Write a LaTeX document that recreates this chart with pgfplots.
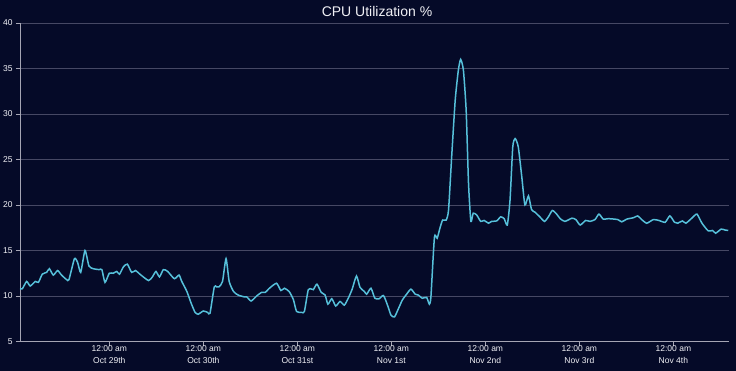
\documentclass[border=0pt]{standalone}
\usepackage{fontspec}
\setmainfont{Liberation Sans}
\usepackage{pgfplots}
\pgfplotsset{compat=1.18}
\definecolor{bgc}{RGB}{5,10,40}
\definecolor{linec}{RGB}{86,192,218}
\definecolor{gridc}{RGB}{70,72,100}
\definecolor{axc}{RGB}{165,165,180}
\definecolor{txtc}{RGB}{240,240,245}
\begin{document}
\begin{tikzpicture}
\useasboundingbox (0,0) rectangle (736bp,371bp);
\fill[bgc] (0,0) rectangle (736bp,371bp);
\begin{axis}[
  at={(20bp,29.5bp)}, anchor=south west,
  scale only axis, width=709bp, height=318.5bp,
  xmin=-22.8, xmax=158.2, ymin=5, ymax=40,
  xtick={0,24,48,72,96,120,144},
  xticklabels={{12:00 am\\Oct 29th},{12:00 am\\Oct 30th},{12:00 am\\Oct 31st},{12:00 am\\Nov 1st},{12:00 am\\Nov 2nd},{12:00 am\\Nov 3rd},{12:00 am\\Nov 4th}},
  xticklabel style={align=center, font=\fontsize{8.5bp}{12bp}\selectfont, text=txtc, yshift=3bp},
  ytick={5,10,...,40},
  yticklabel style={font=\fontsize{8.5bp}{10bp}\selectfont, text=txtc, xshift=0bp},
  /pgf/number format/assume math mode=true,
  axis x line*=bottom, axis y line*=left,
  ymajorgrids, grid style={gridc, line width=0.8bp},
  axis line style={axc, -, line width=0.9bp},
  x axis line style={line width=1.4bp},
  tick style={axc, line width=0.7bp},
  major tick length=4bp,
  tick align=outside,
  title={CPU Utilization \%},
  title style={font=\fontsize{14bp}{16bp}\selectfont, text=txtc, at={(0.5,1)}, anchor=center, yshift=5.5bp, xshift=2.5bp},
]
\addplot[linec, line width=1.5bp, smooth, tension=0.35, no marks] coordinates {
(-22.8,10.8) (-22.2,10.8) (-21.1,11.6) (-20.2,11.1) (-18.9,11.6) (-18.1,11.5) (-17.1,12.4) (-16.0,12.6) (-15.3,13.0) (-14.3,12.3)
(-13.2,12.8) (-12.2,12.3) (-10.9,11.8) (-10.3,11.8) (-8.9,14.1) (-8.1,13.7) (-7.3,12.6) (-6.2,15.0) (-5.2,13.3) (-4.1,13.0)
(-2.6,12.9) (-1.9,12.9) (-1.1,11.5) (0,12.5) (1.0,12.5) (1.9,12.7) (2.6,12.4) (3.6,13.2) (4.6,13.5) (5.7,12.6)
(6.7,12.8) (7.8,12.4) (10.0,11.7) (11.0,12.1) (11.9,12.7) (12.8,12.1) (13.8,12.9) (14.9,12.7) (16.6,11.9) (17.8,12.3)
(18.5,11.6) (19.8,10.5) (20.9,9.2) (21.9,8.2) (22.7,8.0) (24.0,8.35) (25.1,8.2) (25.7,8.1) (26.8,11.0) (27.4,11.0)
(28.0,11.0) (28.9,11.6) (29.8,14.1) (30.6,11.6) (31.7,10.5) (32.9,10.1) (34.5,9.9) (35.1,9.9) (36.2,9.45) (37.6,10.0)
(38.9,10.4) (39.8,10.4) (41.0,10.9) (42.7,11.4) (43.8,10.6) (44.7,10.85) (45.9,10.5) (47.0,9.6) (47.8,8.3) (49.1,8.2)
(49.8,8.3) (50.8,10.7) (51.7,10.75) (52.1,10.7) (53.0,11.3) (54.1,10.4) (55.1,10.1) (55.8,9.1) (56.8,9.7) (57.8,8.9)
(58.9,9.4) (60.0,9.0) (61.0,9.75) (62.0,10.75) (63.1,12.2) (64.0,10.95) (65.1,10.5) (65.7,10.2) (66.8,10.85) (67.8,9.75)
(68.9,9.7) (70.0,10.05) (71.1,8.9) (71.9,7.9) (72.8,7.7) (73.8,8.6) (74.8,9.55) (75.9,10.2) (77.0,10.75) (78.1,10.2)
(78.9,10.1) (79.9,9.75) (81.0,9.85) (81.7,9.1) (82.1,9.9) (83.0,16.45) (83.7,16.35) (84.4,17.45) (85.1,18.35) (86.0,18.35)
(86.6,19.45) (87.4,25.3) (88.3,31.5) (89.1,34.8) (89.7,36.0) (90.4,34.8) (91.1,30.4) (91.7,22.4) (92.3,18.2) (92.9,19.1)
(93.8,18.9) (94.8,18.2) (95.7,18.3) (96.8,18.0) (97.6,18.2) (98.9,18.25) (99.9,18.7) (100.8,18.5) (101.6,17.8) (102.3,20.55)
(103.0,26.4) (103.6,27.3) (104.4,26.4) (105.3,23.1) (106.1,20.0) (107.0,21.0) (107.8,19.5) (108.7,19.2) (109.9,18.7) (111.1,18.2)
(112.1,18.7) (113.1,19.4) (114.2,19.0) (115.1,18.5) (116.3,18.2) (118.1,18.55) (119.1,18.4) (120.2,17.8) (121.6,18.3) (122.7,18.2)
(124.0,18.4) (125.0,19.0) (126.1,18.45) (127.4,18.5) (129.8,18.4) (130.8,18.15) (132.1,18.45) (133.8,18.6) (134.9,18.8) (135.9,18.4)
(137.2,18.0) (138.9,18.4) (140.3,18.3) (141.9,18.1) (143.1,18.8) (144.3,18.1) (145.1,18.0) (146.3,18.25) (147.2,18.0) (148.7,18.55)
(150.0,19.0) (151.3,18.0) (152.9,17.15) (154.0,17.2) (154.8,16.9) (156.2,17.35) (157.2,17.25) (158.0,17.2)
};
\end{axis}
\end{tikzpicture}
\end{document}
